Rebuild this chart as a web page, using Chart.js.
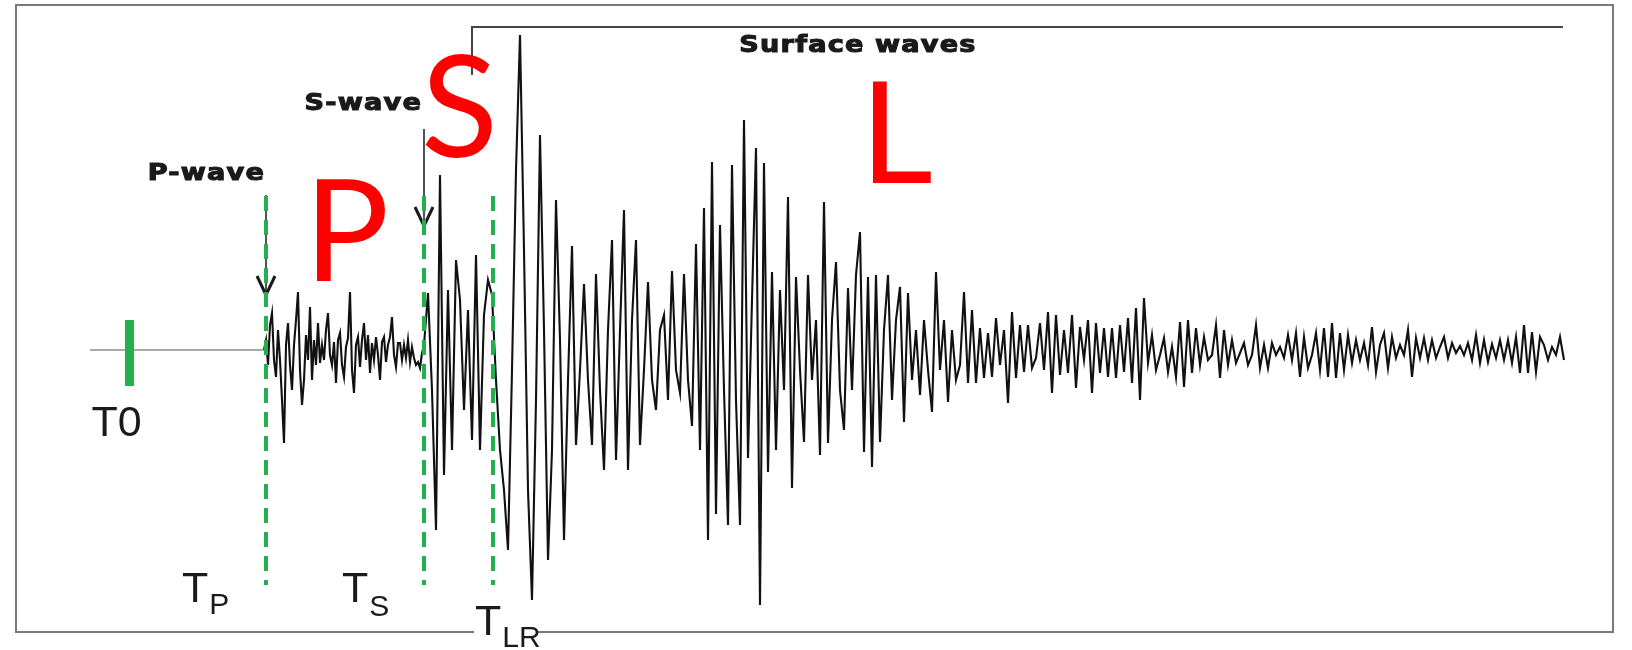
<!DOCTYPE html>
<html>
<head>
<meta charset="utf-8">
<script src="https://cdn.jsdelivr.net/npm/chart.js@4.4.1/dist/chart.umd.min.js"></script>
<style>
  html, body { margin: 0; padding: 0; background: #fff; overflow: hidden; }
  #wrap { width: 1632px; height: 650px; position: relative; }
</style>
</head>
<body>
<div id="wrap"><canvas id="myChart"></canvas></div>
<script>
// Data
const traceStart = 7.4;     // s, where the quiet trace begins

// P coda, finer sampling
const pStart = 24.8;
const pStep = 0.2;
const pAmplitudes = [
  0, 1.0, -1.5, 2.5, 3.7, -1.0, -2.7, 2.0, -1.0, -5.0,
  -9.3, 0.5, 2.7, -1.5, -4.0, 0.5, 3.0, 5.8, -2.0, -5.5,
  -3.0, 1.5, -1.0, 4.3, -3.0, 1.0, -1.5, 2.7, -1.3, 0.5,
  -1.0, 2.0, 3.7, -0.5, -1.5, 0.8, -3.3, 1.0, 1.7, -1.5,
  -2.7, 0.3, 1.2, 5.8, -2.0, -4.3, 0.5, 1.3, -1.7, 1.0,
  2.7, -1.0, 1.5, -2.3, 0.7, -1.0, 1.3, -0.5, -3.0, 0.8,
  1.3, -1.2, 0.5, 1.3, 3.3, -0.5, -1.7, 0.7, 0.7, -1.0,
  0.5, -0.8, 1.0, -1.2, 0.3, -0.8, -1.5, -1.2, -1.8, -0.3
];

// from the S arrival on
const sStart = 40.8;
const sStep = 0.4;
const sAmplitudes = [
  0.5, 5.7, -4.0, -18.0, 17.5, -12.5, 6.0, -10.0, 9.0, 5.0,
  -6.0, 4.0, -9.0, 9.5, -10.0, 3.5, 7.0, 5.5, -3.0, -10.0,
  -14.0, -20.0, -2.0, 18.0, 31.5, 10.0, -14.0, -25.0, -5.0, 21.5,
  2.0, -21.0, -10.0, 15.0, 1.0, -19.0, -3.0, 10.4, -9.5, -2.0,
  6.6, -3.0, -9.5, 7.6, -4.0, -12.0, 2.0, 11.0, -11.0, 2.0,
  14.0, -12.0, 3.0, 11.0, -9.5, -2.0, 6.8, -3.0, -6.0, 2.0,
  3.5, -5.0, 7.9, -2.0, -4.3, 7.6, -3.0, -7.6, 10.6, -10.0,
  14.2, -19.0, 18.8, -16.4, 12.5, -4.0, -17.5, 18.5, -5.0, -17.5,
  23.0, -10.8, 5.0, 20.2, -25.5, 18.7, -12.2, 7.8, -10.0, 6.0,
  -4.0, 15.3, -13.8, 7.3, -2.0, -9.2, 7.5, -3.0, 3.0, -10.5,
  14.8, -9.3, 3.0, 8.8, -4.0, -8.0, 6.2, -4.0, 7.5, 11.8,
  -10.2, 7.3, -11.7, 7.5, -9.2, 2.0, 7.5, -5.0, 3.0, 6.3,
  -7.2, 5.7, -3.0, 2.0, -4.5, 3.0, -2.0, -6.2, 7.8, -2.0,
  3.0, -5.2, 2.0, -3.0, -1.5, 5.8, -3.3, 4.0, -3.3, 2.2,
  -2.8, 1.7, -2.7, 3.2, -1.5, 2.0, -5.3, 3.8, -2.8, 2.5,
  -2.2, 2.5, -1.8, -0.8, 2.7, -2.0, 3.8, -4.3, 3.5, -2.5,
  2.0, -2.3, 3.5, -3.8, 2.3, -1.0, 3.0, -4.3, 2.7, -2.3,
  2.2, -2.7, 2.2, -2.8, 2.5, -2.2, 3.2, -3.3, 4.2, -5.0,
  5.2, -1.3, 1.5, -2.0, -0.5, 1.2, -2.2, 0.3, -2.7, 2.8,
  -3.7, 3.0, -2.3, 2.2, -1.5, 1.3, -1.0, -0.5, 2.5, -2.8,
  2.0, -1.5, 1.0, -1.3, -0.3, 0.7, -1.5, -0.5, 2.5, -1.8,
  0.5, -1.8, 0.7, -0.5, 0.3, -0.8, 1.5, -1.0, 1.7, -2.7,
  1.3, -1.8, -0.5, 1.7, -2.0, 2.2, -2.7, 2.7, -2.8, 1.7,
  -2.0, 1.5, -1.3, 1.0, -1.0, 0.7, -1.5, 2.3, -2.2, 0.5,
  1.7, -1.8, 1.3, -0.8, 0.5, -0.5, 2.0, -2.7, 1.2, -0.8,
  1.2, -1.0, 1.0, -0.8, 0.3, 1.3, -0.8, 0.7, -0.3, 0.4,
  -0.5, 0.7, -1.0, 1.5, -1.3, 1.0, -1.2, 0.6, -0.8, 1.0,
  -1.0, 1.0, -1.3, 1.3, -2.3, 2.5, -2.3, 1.8, -2.2, 1.3,
  0.5, -1.0, 0.3, -0.5, 1.3, -1.0
];

// phase picks (s)
const phaseNames = ["T0", "TP", "TS", "TLR"];
const phaseTimes = [11.35, 25.0, 40.8, 47.7];
const surfaceSpan = [45.6, 154.7];

const timeRange = [0, 159.7];
const ampRange = [-28.2, 34.5];

const trace = pAmplitudes.map((a, i) => ({ x: pStart + i * pStep, y: a }))
  .concat(sAmplitudes.map((a, i) => ({ x: sStart + i * sStep, y: a })));
const quiet = [{ x: traceStart, y: 0 }, { x: pStart, y: 0 }];

const green = "#22b14c";
const ink = "#1a1a1a";

function wideText(ctx, text, x, base, align) {
  const stretch = 1.18;
  ctx.font = "bold 23px 'DejaVu Sans'";
  ctx.letterSpacing = "1px";
  const w = ctx.measureText(text).width * stretch;
  const left = align === "right" ? x - w : align === "center" ? x - w / 2 : x;
  ctx.save();
  ctx.translate(left, base);
  ctx.scale(stretch, 1);
  ctx.textAlign = "left";
  ctx.strokeStyle = ink;
  ctx.lineWidth = 1.1;
  ctx.fillText(text, 0, 0);
  ctx.strokeText(text, 0, 0);
  ctx.restore();
  ctx.letterSpacing = "0px";
}

function subLabel(ctx, main, sub, left, base, subBase) {
  ctx.textAlign = "left";
  ctx.font = "43px 'Liberation Sans'";
  ctx.fillText(main, left, base);
  const w = ctx.measureText(main).width;
  ctx.font = "30px 'Liberation Sans'";
  ctx.fillText(sub, left + w + 1, subBase);
}

function arrow(ctx, x, top, tip) {
  ctx.strokeStyle = ink;
  ctx.lineWidth = 1.5;
  ctx.beginPath();
  ctx.moveTo(x, top);
  ctx.lineTo(x, tip);
  ctx.stroke();
  ctx.lineWidth = 3;
  ctx.beginPath();
  ctx.moveTo(x - 9, tip - 19);
  ctx.lineTo(x, tip);
  ctx.lineTo(x + 9, tip - 19);
  ctx.stroke();
}

const markup = {
  id: "markup",
  afterDatasetsDraw(chart) {
    const { ctx, chartArea: a, scales: { x, y } } = chart;
    const tx = t => x.getPixelForValue(t);
    const ay = v => y.getPixelForValue(v);
    const [t0, tp, ts, tlr] = phaseTimes.map(tx);

    ctx.save();
    // frame
    ctx.strokeStyle = "#7a7a7a";
    ctx.lineWidth = 2;
    ctx.strokeRect(a.left, a.top, a.right - a.left, a.bottom - a.top);

    // surface wave bracket
    ctx.strokeStyle = "#444";
    ctx.lineWidth = 2;
    ctx.beginPath();
    ctx.moveTo(tx(surfaceSpan[0]), ay(27.5));
    ctx.lineTo(tx(surfaceSpan[0]), ay(32.3));
    ctx.lineTo(tx(surfaceSpan[1]), ay(32.3));
    ctx.stroke();

    // arrows
    arrow(ctx, tp, ay(15.5), ay(5.5));
    arrow(ctx, ts, ay(22.1), ay(12.4));

    // phase markers
    ctx.strokeStyle = green;
    ctx.lineWidth = 4;
    ctx.setLineDash([15, 9]);
    [tp, ts, tlr].forEach(px => {
      ctx.beginPath();
      ctx.moveTo(px, ay(15.4));
      ctx.lineTo(px, ay(-23.5));
      ctx.stroke();
    });
    ctx.setLineDash([]);
    ctx.lineWidth = 9;
    ctx.beginPath();
    ctx.moveTo(t0, ay(3.0));
    ctx.lineTo(t0, ay(-3.6));
    ctx.stroke();

    // bold captions
    ctx.fillStyle = ink;
    ctx.textBaseline = "alphabetic";
    wideText(ctx, "Surface waves", 858, ay(29.8), "center");
    wideText(ctx, "P-wave", tp - 1, ay(17.0), "right");
    wideText(ctx, "S-wave", ts - 2, ay(24.0), "right");

    // time labels
    ctx.font = "43px 'Liberation Sans'";
    ctx.textAlign = "center";
    ctx.fillText(phaseNames[0], t0 - 13, ay(-8.6));
    subLabel(ctx, "T", "P", tp - 84, ay(-25.2), ay(-26.4));
    subLabel(ctx, "T", "S", ts - 82, ay(-25.2), ay(-26.6));
    ctx.fillStyle = "#fff";
    ctx.fillRect(tlr - 19, a.bottom - 3, 64, 6);
    ctx.fillStyle = ink;
    subLabel(ctx, "T", "LR", tlr - 18, ay(-28.5), ay(-29.7));

    // big red letters
    ctx.fillStyle = "#ff0000";
    ctx.font = "142px Lato";
    ctx.textAlign = "left";
    ctx.fillText("P", 304, ay(6.9));
    ctx.fillText("S", 421, ay(19.3));
    ctx.fillText("L", 860, ay(16.7));
    ctx.restore();
  }
};

// Configuration
const config = {
  type: "line",
  data: {
    datasets: [
      {
        label: "before P",
        data: quiet,
        borderColor: "#555",
        borderWidth: 1.2,
        pointRadius: 0
      },
      {
        label: "ground motion",
        data: trace,
        borderColor: "#111",
        borderWidth: 2.1,
        pointRadius: 0,
        tension: 0
      }
    ]
  },
  options: {
    responsive: true,
    maintainAspectRatio: false,
    animation: false,
    events: [],
    layout: { padding: { left: 16, right: 19, top: 5, bottom: 18 } },
    scales: {
      x: { type: "linear", display: false, min: timeRange[0], max: timeRange[1] },
      y: { type: "linear", display: false, min: ampRange[0], max: ampRange[1] }
    },
    plugins: {
      legend: { display: false },
      tooltip: { enabled: false }
    }
  },
  plugins: [markup]
};

// Create chart
const ctx = document.getElementById("myChart").getContext("2d");
const myChart = new Chart(ctx, config);
</script>
</body>
</html>
